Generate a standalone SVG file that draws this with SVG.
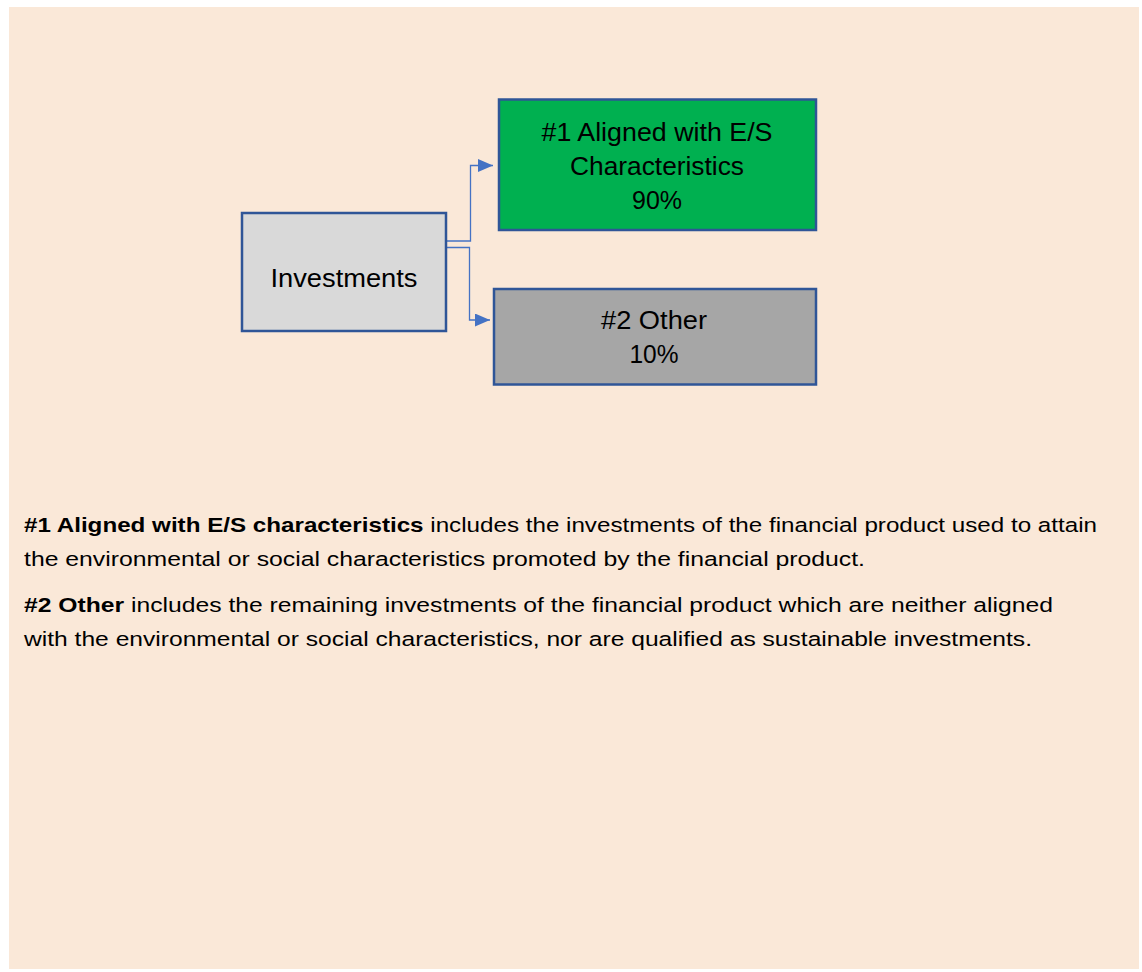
<svg xmlns="http://www.w3.org/2000/svg" width="1142" height="972" viewBox="0 0 1142 972">
<style>
.box{stroke:#2F5597;stroke-width:2.5}
.t{font-family:"Liberation Sans",Arial,sans-serif;fill:#000}
.bt{font-size:25px;text-anchor:middle}
.body{font-size:20.5px}
.b{font-weight:bold}
.con{fill:none;stroke:#4472C4;stroke-width:1.3}
</style>
<defs>
<marker id="arr" markerWidth="15" markerHeight="13" refX="15" refY="6.5" orient="auto" markerUnits="userSpaceOnUse">
<path d="M0,0 L15,6.5 L0,13 Z" fill="#4472C4"/>
</marker>
</defs>
<rect x="9" y="7" width="1130" height="962" fill="#FAE8D8"/>
<g id="connectors">
<path class="con" d="M447,241 H470.5 V165.5 H493" marker-end="url(#arr)"/>
<path class="con" d="M447,247.5 H469.5 V320 H490" marker-end="url(#arr)"/>
</g>
<g id="investments">
<rect class="box" x="242" y="213" width="204" height="118" fill="#D9D9D9"/>
<text class="t bt" x="344" y="287" textLength="147" lengthAdjust="spacingAndGlyphs">Investments</text>
</g>
<g id="aligned">
<rect class="box" x="499" y="99.5" width="317" height="130.5" fill="#00B050"/>
<text class="t bt" x="657" y="141" textLength="231" lengthAdjust="spacingAndGlyphs">#1 Aligned with E/S</text>
<text class="t bt" x="657" y="175" textLength="174" lengthAdjust="spacingAndGlyphs">Characteristics</text>
<text class="t bt" x="657" y="209" textLength="50" lengthAdjust="spacingAndGlyphs">90%</text>
</g>
<g id="other">
<rect class="box" x="494" y="289" width="322" height="95.5" fill="#A6A6A6"/>
<text class="t bt" x="654" y="329" textLength="106" lengthAdjust="spacingAndGlyphs">#2 Other</text>
<text class="t bt" x="654" y="363" textLength="49" lengthAdjust="spacingAndGlyphs">10%</text>
</g>
<g id="legend">
<text class="t body" x="24" y="532" textLength="1073" lengthAdjust="spacingAndGlyphs"><tspan class="b">#1 Aligned with E/S characteristics</tspan> includes the investments of the financial product used to attain</text>
<text class="t body" x="24" y="566" textLength="841" lengthAdjust="spacingAndGlyphs">the environmental or social characteristics promoted by the financial product.</text>
<text class="t body" x="24" y="612" textLength="1029" lengthAdjust="spacingAndGlyphs"><tspan class="b">#2 Other</tspan> includes the remaining investments of the financial product which are neither aligned</text>
<text class="t body" x="24" y="646" textLength="1008" lengthAdjust="spacingAndGlyphs">with the environmental or social characteristics, nor are qualified as sustainable investments.</text>
</g>
</svg>
